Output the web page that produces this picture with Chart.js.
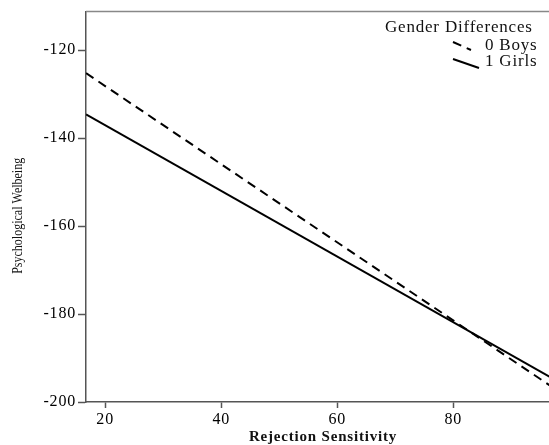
<!DOCTYPE html>
<html>
<head>
<meta charset="utf-8">
<script src="https://cdn.jsdelivr.net/npm/chart.js@4"></script>
<style>
  html, body { margin: 0; padding: 0; background: #fff; overflow: hidden; }
  #wrap { width: 560px; height: 445px; }
</style>
</head>
<body>
<div id="wrap"><canvas id="chart"></canvas></div>
<script>
// Data (fitted regression lines, end points)
const xRange = [16.7, 98.4];
const boys = [-125.2, -197.8];
const girls = [-134.6, -195.6];
const seriesLabels = ['0 Boys', '1 Girls'];
const legendTitle = 'Gender Differences';
const yTitle = 'Psychological Welbeing';
const yTicks = [-200, -180, -160, -140, -120];
const xTicks = [20, 40, 60, 80];

const serif = "'Liberation Serif', 'DejaVu Serif', serif";
const spacing = '0.8px';

function toPoints(ys) {
    return xRange.map((x, i) => ({ x: x, y: ys[i] }));
}

// the reference text is a bit wide, so space all letters a little
const spacingPlugin = {
    id: 'spacing',
    beforeInit(chart) { chart.ctx.letterSpacing = spacing; },
    beforeUpdate(chart) { chart.ctx.letterSpacing = spacing; },
    beforeDraw(chart) { chart.ctx.letterSpacing = spacing; }
};

// top frame line, y title and legend
const framePlugin = {
    id: 'frame',
    afterDraw(chart) {
        const { ctx, chartArea } = chart;
        ctx.save();
        ctx.strokeStyle = '#888';
        ctx.lineWidth = 1.5;
        ctx.beginPath();
        ctx.moveTo(chartArea.left, chartArea.top);
        ctx.lineTo(chartArea.right, chartArea.top);
        ctx.stroke();

        // y title: rotated, glyphs widened like the reference
        ctx.save();
        ctx.letterSpacing = '0px';
        ctx.translate(18, (chartArea.top + chartArea.bottom) / 2 + 9);
        ctx.rotate(-Math.PI / 2);
        ctx.scale(1, 1.3);
        ctx.fillStyle = '#111';
        ctx.textAlign = 'center';
        ctx.textBaseline = 'middle';
        ctx.font = '12px ' + serif;
        ctx.fillText(yTitle, 0, 0);
        ctx.restore();

        // legend
        ctx.fillStyle = '#111';
        ctx.textBaseline = 'middle';
        ctx.textAlign = 'left';
        ctx.font = '17px ' + serif;
        ctx.fillText(legendTitle, 385, 28);

        const rows = [
            { y: 46, x0: 453, y0: 42, x1: 471, y1: 50 },
            { y: 62, x0: 453, y0: 59, x1: 479, y1: 68 }
        ];
        chart.data.datasets.forEach((ds, i) => {
            const r = rows[i];
            ctx.strokeStyle = '#000';
            ctx.lineWidth = 2;
            ctx.setLineDash(ds.borderDash || []);
            ctx.beginPath();
            ctx.moveTo(r.x0, r.y0);
            ctx.lineTo(r.x1, r.y1);
            ctx.stroke();
            ctx.setLineDash([]);
            ctx.fillText(ds.label, 485, r.y);
        });
        ctx.restore();
    }
};

const ctx = document.getElementById('chart').getContext('2d');
new Chart(ctx, {
    type: 'line',
    data: {
        datasets: [
            {
                label: seriesLabels[0],
                data: toPoints(boys),
                borderColor: '#000',
                borderWidth: 2,
                borderDash: [9, 6],
                pointRadius: 0,
                fill: false
            },
            {
                label: seriesLabels[1],
                data: toPoints(girls),
                borderColor: '#000',
                borderWidth: 2,
                pointRadius: 0,
                fill: false
            }
        ]
    },
    options: {
        responsive: true,
        maintainAspectRatio: false,
        animation: false,
        layout: { padding: { top: 8, right: 0, left: 0, bottom: 0 } },
        plugins: {
            legend: { display: false },
            tooltip: { enabled: false }
        },
        scales: {
            x: {
                type: 'linear',
                min: xRange[0],
                max: xRange[1],
                afterFit(scale) { scale.height = 43; },
                afterBuildTicks(scale) { scale.ticks = xTicks.map(v => ({ value: v })); },
                grid: {
                    drawOnChartArea: false,
                    drawTicks: true,
                    tickLength: 6,
                    tickColor: '#555',
                    tickWidth: 1.5
                },
                border: { color: '#555', width: 1.5 },
                ticks: {
                    padding: 2,
                    color: '#000',
                    font: { family: serif, size: 16 }
                },
                title: {
                    display: true,
                    text: 'Rejection Sensitivity',
                    color: '#111',
                    padding: { top: 0, bottom: 0 },
                    font: { family: serif, size: 15, weight: 'bold', lineHeight: 1.0 }
                }
            },
            y: {
                type: 'linear',
                min: -200,
                max: -111.2,
                afterFit(scale) { scale.width = 86; },
                afterBuildTicks(scale) { scale.ticks = yTicks.map(v => ({ value: v })); },
                grid: {
                    drawOnChartArea: false,
                    drawTicks: true,
                    tickLength: 8,
                    tickColor: '#555',
                    tickWidth: 1.5
                },
                border: { color: '#555', width: 1.5 },
                ticks: {
                    padding: 2,
                    color: '#000',
                    font: { family: serif, size: 16 }
                },
                title: { display: false }
            }
        }
    },
    plugins: [spacingPlugin, framePlugin]
});
</script>
</body>
</html>
